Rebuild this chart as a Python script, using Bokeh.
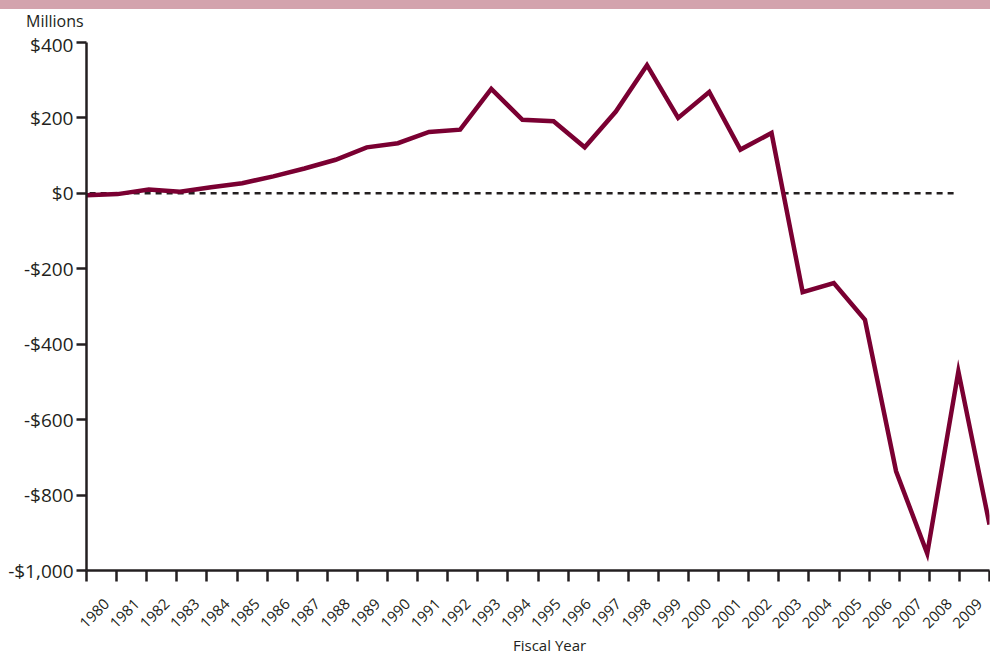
import math
from bokeh.plotting import figure
from bokeh.models import FixedTicker, CustomJSTickFormatter, Div, Range1d
from bokeh.layouts import column
from bokeh.embed import file_html
from bokeh.resources import INLINE

# ---- data ----
YEARS = list(range(1980, 2010))
YEAR_LABELS = [str(y) for y in YEARS]
VALUES = [-5, -2, 10, 4, 16, 27, 45, 66, 89, 122, 133, 163, 169, 277, 195,
          191, 122, 217, 340, 200, 269, 116, 160, -262, -238, -335, -737,
          -955, -472, -878]
Y_TICKS = [-1000, -800, -600, -400, -200, 0, 200, 400]
ZERO_LINE_X = [1980.1, 2007.9]
Y_UNIT_LABEL = "Millions"
X_TITLE = "Fiscal Year"

FONT = "Open Sans"
DARK = "#231f20"
LINE_COLOR = "#7a0032"
BAND_COLOR = "#d3a3ad"

n = len(YEARS)
span = YEARS[-1] - YEARS[0]
boundaries = [YEARS[0] + k * span / n for k in range(n + 1)]
label_pos = [YEARS[0] + (k + 0.5) * span / n + 0.17 for k in range(n)]

p = figure(width=990, height=604, output_backend="svg", toolbar_location=None,
           x_range=Range1d(YEARS[0], YEARS[-1]), y_range=Range1d(-1000, 400),
           min_border_left=86, min_border_right=1, min_border_top=11,
           min_border_bottom=65, margin=0)
p.outline_line_color = None
p.xgrid.visible = False
p.ygrid.visible = False
p.background_fill_color = "white"
p.border_fill_color = "white"

# zero reference line
p.segment(x0=[ZERO_LINE_X[0]], y0=[0], x1=[ZERO_LINE_X[1]], y1=[0],
          line_color=DARK, line_width=2.5, line_dash="6 5")

p.line(YEARS, VALUES, line_color=LINE_COLOR, line_width=4.5, line_join="miter")

# x axis
xa = p.xaxis[0]
xa.ticker = FixedTicker(ticks=label_pos, minor_ticks=boundaries)
xa.formatter = CustomJSTickFormatter(args=dict(labels=YEAR_LABELS, y0=YEARS[0], n=n, span=span), code="""
const i = Math.floor((tick - y0) * n / span);
return labels[i] ?? '';
""")
xa.major_tick_line_color = None
xa.major_tick_out = 0
xa.major_tick_in = 0
xa.minor_tick_out = 11
xa.minor_tick_in = 0
xa.minor_tick_line_width = 2.5
xa.minor_tick_line_color = DARK
xa.axis_line_color = DARK
xa.axis_line_width = 2.5
xa.major_label_orientation = math.pi / 4
xa.major_label_text_font = FONT
xa.major_label_text_font_size = "15px"
xa.major_label_text_color = DARK
xa.major_label_standoff = 20

# y axis
ya = p.yaxis[0]
ya.ticker = FixedTicker(ticks=Y_TICKS)
ya.formatter = CustomJSTickFormatter(code="""
const a = Math.abs(tick).toLocaleString('en-US');
return (tick < 0 ? '-' : '') + '$' + a;
""")
ya.major_tick_out = 10
ya.major_tick_in = 0
ya.major_tick_line_width = 2.5
ya.major_tick_line_color = DARK
ya.minor_tick_line_color = None
ya.axis_line_color = DARK
ya.axis_line_width = 2.5
ya.major_label_text_font = FONT
ya.major_label_text_font_size = "19px"
ya.major_label_text_color = DARK
ya.major_label_standoff = 3

band = Div(text="", width=990, height=9, margin=0,
           styles={"background-color": BAND_COLOR})
units = Div(
    text=(f'<div style="padding:2px 0 0 26px; font-family:\'{FONT}\'; font-size:16px; '
          f'line-height:20px; color:{DARK}; white-space:nowrap;">{Y_UNIT_LABEL}</div>'),
    width=990, height=22, margin=0)
xtitle = Div(
    text=(f'<div style="padding-left:513px; font-family:\'{FONT}\'; font-size:15px; '
          f'line-height:20px; color:{DARK}; white-space:nowrap;">{X_TITLE}</div>'),
    width=990, height=20, margin=0)

layout = column(band, units, p, xtitle, spacing=0)
open("out.html", "w").write(file_html(layout, INLINE))
